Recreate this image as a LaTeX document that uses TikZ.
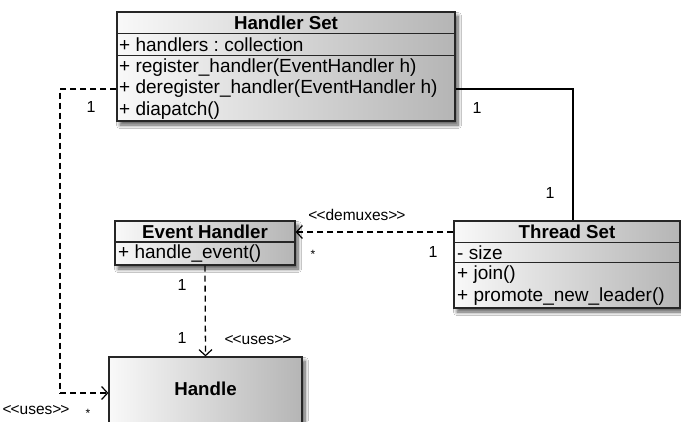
\documentclass[tikz,border=0pt]{standalone}
\usepackage{fontspec}
\setmainfont{Liberation Sans}
\usetikzlibrary{arrows.meta,shadows.blur,calc}

\newcommand{\stereotype}[1]{\textless\kern-1pt\textless#1\textgreater\kern-1pt\textgreater}

\tikzset{
  umlbox/.style={draw=black!85, line width=1.2pt, inner sep=0pt,
    left color=gray!5, right color=gray!58,
    blur shadow={shadow xshift=3pt, shadow yshift=-4pt, shadow blur radius=3.5pt,
      shadow blur steps=8, shadow opacity=65}},
  divider/.style={draw=black!85, line width=1.2pt},
  ctitle/.style={font=\bfseries\fontsize{18.7}{21}\selectfont, inner sep=0pt},
  member/.style={font=\fontsize{19}{21}\selectfont, anchor=west, inner sep=0pt},
  mult/.style={font=\fontsize{16}{18}\selectfont, inner sep=0pt},
  star/.style={font=\fontsize{12}{14}\selectfont, inner sep=0pt},
  stereo/.style={font=\fontsize{15.5}{17}\selectfont, inner sep=0pt},
  assoc/.style={draw=black, line width=1.2pt},
  dep/.style={draw=black, line width=1.3pt, dash pattern=on 6pt off 4pt,
    -{Straight Barb[length=6pt,width=13pt,line width=1.2pt]}},
  deplink/.style={draw=black, line width=1.3pt, dash pattern=on 6pt off 4pt},
}

\begin{document}
\frenchspacing
\begin{tikzpicture}[x=1pt,y=-1pt]
\clip (0,0) rectangle (681,421);
\fill[white] (0,0) rectangle (681,421);

% ---- class boxes ----
\node[umlbox, minimum width=338pt, minimum height=109pt] (hs) at (286,66.5) {};
\node[umlbox, minimum width=180pt, minimum height=44pt] (eh) at (205,243) {};
\node[umlbox, minimum width=226pt, minimum height=87pt] (ts) at (567,264.5) {};
\node[umlbox, minimum width=193pt, minimum height=90pt] (hd) at (205.5,402) {};

% compartments
\draw[divider] ($(hs.north west)+(0,22)$) -- ($(hs.north east)+(0,22)$);
\draw[divider] ($(hs.north west)+(0,44)$) -- ($(hs.north east)+(0,44)$);
\draw[divider] ($(eh.north west)+(0,21.5)$) -- ($(eh.north east)+(0,21.5)$);
\draw[divider] ($(ts.north west)+(0,22)$) -- ($(ts.north east)+(0,22)$);
\draw[divider] ($(ts.north west)+(0,42)$) -- ($(ts.north east)+(0,42)$);

% Handler Set
\node[ctitle] (hsT) at (286,23) {Handler Set};
\node[member] (hs1) at (119,45) {+ handlers : collection};
\node[member] (hs2) at (119,67.5) {+ register\_handler(EventHandler h)};
\node[member] (hs3) at (119,89) {+ deregister\_handler(EventHandler h)};
\node[member] (hs4) at (119,110.5) {+ diapatch()};

% Event Handler
\node[ctitle] (ehT) at (205,231.5) {Event Handler};
\node[member] (eh1) at (118,253.5) {+ handle\_event()};

% Thread Set
\node[ctitle] (tsT) at (567,232) {Thread Set};
\node[member] (ts1) at (457,253) {- size};
\node[member] (ts2) at (457,275) {+ join()};
\node[member] (ts3) at (457,297) {+ promote\_new\_leader()};

% Handle
\node[ctitle] (hdT) at (205.5,389) {Handle};

% ---- connectors ----
\coordinate (bendR) at (573,89);
\draw[assoc] (hs.east |- bendR) -| (ts.north -| bendR);

\coordinate (demuxY) at (0,232);
\draw[dep] (ts.west |- demuxY) -- (eh.east |- demuxY);

\draw[dep] (eh.south) -- (hd.north);

\coordinate (leftTop) at (60,89);
\coordinate (leftBot) at (60,393);
\draw[deplink] (hs.west |- leftTop) -- (leftTop) -- (leftBot);
\draw[dep] (leftBot) -- (hd.west |- leftBot);

% ---- labels ----
\node[mult] (m1) at (91,107) {1};
\node[mult] (m2) at (477,108) {1};
\node[mult] (m3) at (550,193) {1};
\node[stereo] (s1) at (357,215) {\stereotype{demuxes}};
\node[star] (m4) at (313,254) {*};
\node[mult] (m5) at (433,252) {1};
\node[mult] (m6) at (182,285) {1};
\node[mult] (m7) at (182,338) {1};
\node[stereo] (s2) at (258,340) {\stereotype{uses}};
\node[stereo] (s3) at (36,410) {\stereotype{uses}};
\node[star] (m8) at (88,413) {*};
\end{tikzpicture}
\end{document}
